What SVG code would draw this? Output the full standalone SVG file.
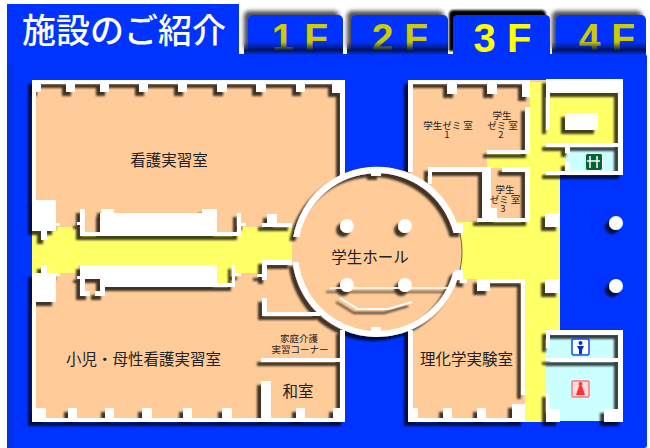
<svg xmlns="http://www.w3.org/2000/svg" width="650" height="448" viewBox="0 0 650 448">
<defs>
<filter id="sh" x="-10%" y="-10%" width="120%" height="120%"><feGaussianBlur in="SourceAlpha" stdDeviation="1.3" result="b"/><feOffset in="b" dx="-4" dy="4" result="o"/><feFlood flood-color="#000" flood-opacity="0.75"/><feComposite in2="o" operator="in"/><feMerge><feMergeNode/><feMergeNode in="SourceGraphic"/></feMerge></filter>
<filter id="tabsh" x="-15%" y="-30%" width="130%" height="150%"><feGaussianBlur in="SourceAlpha" stdDeviation="2" result="b"/><feOffset in="b" dx="-4" dy="-4" result="o"/><feFlood flood-color="#000" flood-opacity="0.7"/><feComposite in2="o" operator="in"/><feMerge><feMergeNode/><feMergeNode in="SourceGraphic"/></feMerge></filter>
<filter id="tabsh3" x="-15%" y="-30%" width="130%" height="150%"><feGaussianBlur in="SourceAlpha" stdDeviation="1.2" result="b"/><feOffset in="b" dx="-4" dy="-5" result="o"/><feFlood flood-color="#000" flood-opacity="1"/><feComposite in2="o" operator="in"/><feMerge><feMergeNode/><feMergeNode in="SourceGraphic"/></feMerge></filter>
<linearGradient id="fade" x1="0" y1="0" x2="0" y2="1"><stop offset="0" stop-color="#001a66" stop-opacity="0"/><stop offset="0.25" stop-color="#001a66" stop-opacity="0.05"/><stop offset="0.72" stop-color="#00114d" stop-opacity="0.95"/><stop offset="1" stop-color="#0033ff"/></linearGradient>
</defs>
<style>
text{font-family:"Noto Sans CJK JP","Liberation Sans",sans-serif;fill:#222;text-anchor:middle}
.tab{font-family:"Liberation Sans",sans-serif;font-weight:700;font-size:39px;fill:#cccc00}
.w{fill:#fff}
.p{fill:#ffcc99}
.y{fill:#ffff66}
.c{fill:#ccffff}
.t{fill:#0033ff}
.f{fill:url(#fade)}
</style>
<rect width="650" height="448" fill="#fff"/>
<rect x="7" y="54" width="640" height="394" rx="3" class="t"/>
<rect x="7" y="65" width="6" height="383" fill="#0033e0"/>
<g id="tabs">
<g id="tab1"><rect class="t" x="248" y="15" width="95" height="40" rx="5" filter="url(#tabsh)"/><text class="tab" x="300" y="51">1 F</text><rect class="f" x="244" y="38" width="99" height="17"/></g>
<g id="tab2"><rect class="t" x="351" y="15" width="97" height="40" rx="5" filter="url(#tabsh)"/><text class="tab" x="400" y="51">2 F</text><rect class="f" x="347" y="38" width="101" height="17"/></g>
<g id="tab4"><rect class="t" x="556" y="15" width="90" height="40" rx="5" filter="url(#tabsh)"/><text class="tab" x="607" y="51">4 F</text><rect class="f" x="552" y="38" width="94" height="17"/></g>
<g id="tab3"><path class="t" d="M453 56V20q0-5 5-5h87q5 0 5 5V56z" filter="url(#tabsh3)"/><text class="tab" x="502.500" y="52" style="fill:#ffff00;font-size:40px">3 F</text></g>
</g>
<g id="title"><rect x="7" y="4" width="232" height="61" class="t"/><text x="124" y="43" style="fill:#fff;font-size:34px;font-weight:500">施設のご紹介</text></g>
<g id="floors">
<rect class="p" x="32" y="80" width="313" height="342"/>
<path class="y" d="M32 231H56V227H78V236H241V227H292V260H262V273H235V283H217V265H78V273H32z"/>
<rect class="p" x="408" y="80" width="122" height="142"/>
<rect class="p" x="530" y="80" width="16" height="3"/>
<rect class="y" x="487" y="153" width="43" height="15"/>
<rect class="p" x="491" y="168" width="34" height="50"/>
<rect class="y" x="530" y="82" width="30" height="248"/>
<rect class="y" x="530" y="330" width="16" height="92"/>
<rect class="y" x="525" y="279" width="5" height="143"/>
<rect class="y" x="450" y="222" width="110" height="57"/>
<rect class="p" x="408" y="279" width="117" height="142"/>
<rect class="y" x="546" y="82" width="75" height="62"/>
<rect class="y" x="546" y="147" width="20" height="26"/>
<rect class="c" x="566" y="147" width="54" height="26"/>
<rect class="c" x="546" y="332" width="76" height="89"/>
<circle class="p" cx="377" cy="252" r="85"/>
<path d="M459.900 233A85 85 0 0 1 459.600 272" fill="none" stroke="#665" stroke-width="1"/>
</g>
<g id="walls" filter="url(#sh)">
<path class="w" d="M32 80H345V178H340V93H332V84H305V92H296V84H266V92H256V84H227V92H217V84H187V92H178V84H148V92H139V84H109V92H100V84H75V92H66V84H41V92H36V200H32z"/>
<rect class="w" x="32" y="200" width="24" height="31"/>
<rect class="w" x="41" y="231" width="6" height="9"/>
<rect class="w" x="56" y="223" width="4" height="3"/>
<rect class="w" x="80" y="209" width="5" height="27"/>
<rect class="w" x="77" y="222" width="3" height="3"/>
<rect class="w" x="80" y="232" width="158" height="4"/>
<rect class="w" x="100" y="213" width="117" height="20"/>
<rect class="w" x="101" y="209" width="13" height="4"/>
<rect class="w" x="202" y="209" width="15" height="4"/>
<rect class="w" x="237" y="213" width="4" height="23"/>
<rect class="w" x="241" y="223" width="5" height="3"/>
<rect class="w" x="262" y="223" width="30" height="4"/>
<rect class="w" x="267" y="214" width="10" height="9"/>
<rect class="w" x="32" y="273" width="24" height="29"/>
<rect class="w" x="41" y="265" width="6" height="8"/>
<rect class="w" x="56" y="273" width="4" height="3"/>
<rect class="w" x="77" y="276" width="3" height="3"/>
<rect class="w" x="80" y="265" width="137" height="14"/>
<rect class="w" x="80" y="279" width="5" height="17"/>
<rect class="w" x="100" y="279" width="5" height="17"/>
<rect class="w" x="80" y="291" width="10" height="5"/>
<rect class="w" x="95" y="291" width="10" height="5"/>
<rect class="w" x="105" y="279" width="112" height="8"/>
<rect class="w" x="105" y="283" width="130" height="4"/>
<rect class="w" x="232" y="265" width="3" height="22"/>
<rect class="w" x="235" y="273" width="6" height="3"/>
<rect class="w" x="262" y="260" width="30" height="5"/>
<rect class="w" x="262" y="260" width="5" height="20"/>
<rect class="w" x="257" y="274" width="5" height="3"/>
<rect class="w" x="262" y="298" width="5" height="17"/>
<rect class="w" x="262" y="312" width="58" height="4"/>
<rect class="w" x="261" y="358" width="84" height="4"/>
<rect class="w" x="261" y="381" width="10" height="38"/>
<path class="w" d="M32 273H36V408H46V418H68V408H77V418H105V408H114V418H142V408H152V418H183V408H192V418H222V408H232V418H262V408H271V418H296V408H305V418H333V408H340V330H345V422H32z"/>
<path class="w" d="M408 80H530V97H522V84H497V94H487V84H457V94H447V84H413V172H408z"/>
<rect class="w" x="525" y="107" width="5" height="46"/>
<rect class="w" x="487" y="150" width="43" height="4"/>
<rect class="w" x="428" y="167" width="59" height="5"/>
<rect class="w" x="428" y="167" width="4" height="17"/>
<rect class="w" x="482" y="167" width="5" height="55"/>
<rect class="w" x="487" y="167" width="4" height="51"/>
<rect class="w" x="502" y="167" width="28" height="5"/>
<rect class="w" x="525" y="168" width="5" height="54"/>
<rect class="w" x="477" y="218" width="53" height="4"/>
<rect class="w" x="487" y="208" width="10" height="10"/>
<rect class="w" x="545" y="213" width="15" height="14"/>
<rect class="w" x="545" y="279" width="15" height="14"/>
<path class="w" d="M546 79H623V175H546V171H618V147H546V143H618V93H550V130H546z"/>
<rect class="w" x="565" y="113" width="33" height="17"/>
<rect class="w" x="565" y="147" width="5" height="6"/>
<rect class="w" x="565" y="162" width="5" height="10"/>
<path class="w" d="M408 330H413V408H418V418H443V408H452V418H477V408H486V418H512V404H525V422H408z"/>
<rect class="w" x="460" y="279" width="7" height="4"/>
<rect class="w" x="477" y="279" width="13" height="12"/>
<rect class="w" x="477" y="279" width="48" height="4"/>
<rect class="w" x="521" y="279" width="4" height="116"/>
<path class="w" d="M546 330H623V409H604V422H623V409H618V362H550V409H560V422H546V393H550V361H546V358H618V335H550V348H546z"/>
<path class="w" d="M293.300 237A85 85 0 0 1 459.900 233L453.600 233A79 79 0 0 0 299.400 237zM292.600 262A85 85 0 0 0 459.600 272L453.400 272A79 79 0 0 1 298.600 262z"/>
<rect class="w" x="455" y="223" width="8" height="10"/>
<rect class="w" x="455" y="270" width="8" height="10"/>
<rect class="w" x="371" y="167" width="10" height="9"/>
<rect class="w" x="371" y="327" width="10" height="9"/>
<circle class="w" cx="347" cy="226" r="7"/><circle class="w" cx="405" cy="226" r="7"/>
<circle class="w" cx="347" cy="285" r="7"/><circle class="w" cx="405" cy="285" r="7"/>
<circle class="w" cx="616" cy="223" r="7"/><circle class="w" cx="616" cy="286" r="7"/>
<path d="M330 288H450" stroke="#fff" stroke-width="1.500" fill="none"/>
<path d="M340 298L358 309H388L412 302" stroke="#fff" stroke-width="2" fill="none"/>
</g>
<g id="signs">
<g id="exit"><rect x="585.500" y="153.500" width="17" height="17" rx="2" fill="#006633" stroke="#fff"/><path d="M590 156v12M597 156v12M587 161h13" stroke="#fff" stroke-width="1.500"/></g>
<g id="wc-m"><rect x="572" y="339" width="17" height="16" rx="2" fill="#fff" stroke="#1144ff" stroke-width="1.500"/><circle cx="580.500" cy="343" r="2" fill="#0033cc"/><path d="M577 346h7l-2 4v4h-3v-4z" fill="#0033cc"/></g>
<g id="wc-f"><rect x="572" y="381" width="17" height="16" rx="1" fill="#ffdddd" stroke="#ff7777" stroke-width="1.500"/><circle cx="580.500" cy="384" r="2" fill="#ff3333"/><path d="M579 386h3l3 9h-9z" fill="#ff3333"/></g>
</g>
<g id="labels">
<text x="169" y="165.500" font-size="15.500">看護実習室</text>
<text x="143.500" y="364.500" font-size="15.500">小児・母性看護実習室</text>
<text x="299" y="342" font-size="9.500">家庭介護</text>
<text x="300" y="352.500" font-size="9.500">実習コーナー</text>
<text x="298" y="396.500" font-size="15.500">和室</text>
<text x="370" y="262.500" font-size="15.500">学生ホール</text>
<text x="466.500" y="365" font-size="15.500">理化学実験室</text>
<g font-size="9.500"><text x="448" y="128.500">学生ゼミ 室</text><text x="447" y="138">1</text>
<text x="502" y="118.500">学生</text><text x="502.500" y="128.500">ゼミ 室</text><text x="501" y="138">2</text>
<text x="505" y="192.500">学生</text><text x="505" y="202.500">ゼミ 室</text><text x="503" y="212">3</text></g>
</g>
</svg>
